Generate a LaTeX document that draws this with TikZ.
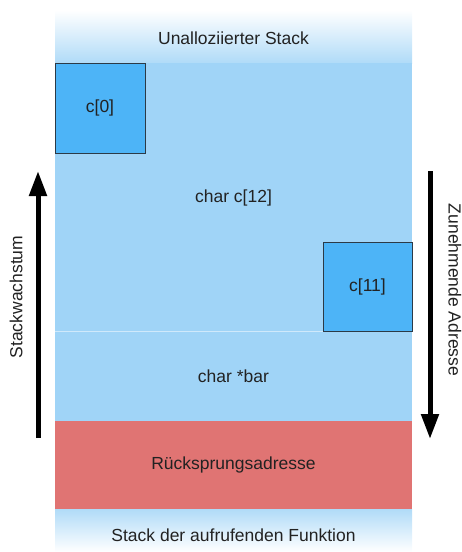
\documentclass[tikz,border=0pt]{standalone}
\usepackage{fontspec}
\setmainfont{Liberation Sans}
\usetikzlibrary{arrows.meta}
\definecolor{stackblue}{HTML}{A0D4F7}
\definecolor{stackfade}{HTML}{B0DBF8}
\definecolor{cellblue}{HTML}{4DB4F7}
\definecolor{cellborder}{HTML}{2B3A47}
\definecolor{retred}{HTML}{E07473}
\definecolor{txt}{HTML}{222222}
\begin{document}
\begin{tikzpicture}[x=1pt,y=-1pt,
  lbl/.style={font=\fontsize{17.5}{20}\selectfont, text=txt},
  cell/.style={fill=cellblue, draw=cellborder, line width=0.9pt},
  growarrow/.style={line width=5pt, -{Triangle[width=17pt,length=25pt]}}]
\useasboundingbox (0,0) rectangle (462,552);
% regions
\shade[top color=white, bottom color=stackfade] (55,10) rectangle (412,63);
\fill[stackblue] (55,63) rectangle (412,421);
\draw[white, opacity=0.5, line width=0.6pt] (55,331) -- (412,331);
\fill[retred] (55,421) rectangle (412,509);
\shade[top color=stackfade, bottom color=white] (55,509) rectangle (412,552);
% cells
\draw[cell] (55,63) rectangle (145,153);
\draw[cell] (323,242) rectangle (412,331);
% texts
\node[lbl] (unalloc) at (233.5,38) {Unalloziierter Stack};
\node[lbl] (c0) at (100,108) {c[0]};
\node[lbl] (carr) at (233.5,198) {char c[12]};
\node[lbl] (c11) at (367.5,287) {c[11]};
\node[lbl] (bar) at (233.5,376) {char *bar};
\node[lbl] (ret) at (233.5,465) {Rücksprungsadresse};
\node[lbl] (caller) at (233.5,535) {Stack der aufrufenden Funktion};
\node[lbl, rotate=90] (grow) at (16,297) {Stackwachstum};
\node[lbl, rotate=-90] (addr) at (455,290) {Zunehmende Adresse};
% arrows
\coordinate (la) at (38,438);
\coordinate (lb) at (38,171);
\coordinate (ra) at (430,171);
\coordinate (rb) at (430,439);
\draw[growarrow] (la) -- (lb);
\draw[growarrow] (ra) -- (rb);
\end{tikzpicture}
\end{document}
